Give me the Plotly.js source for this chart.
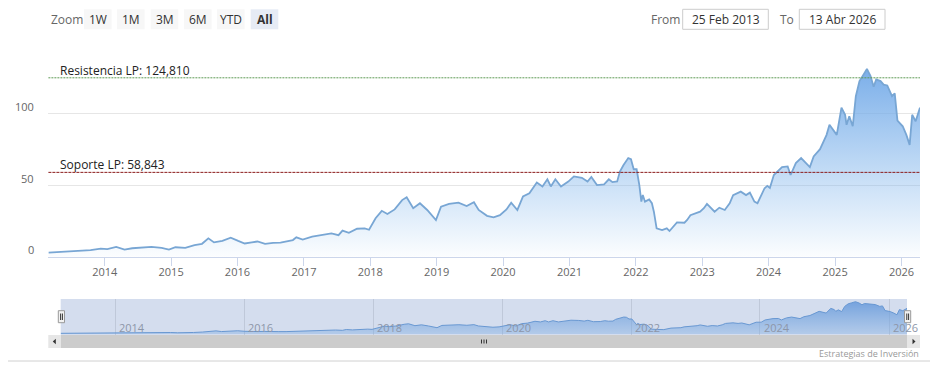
<!DOCTYPE html>
<html><head><meta charset="utf-8">
<script src="https://cdn.plot.ly/plotly-3.0.1.min.js"></script>
<style>html,body{margin:0;padding:0;background:#fff;}#chart{width:937px;height:379px;}</style>
</head><body><div id="chart"></div>
<script>
// ---------------- DATA ----------------
const dates = ['2013-02-25','2013-04-15','2013-06-15','2013-08-15','2013-10-15','2013-12-10','2014-01-15','2014-03-05','2014-04-20','2014-06-01','2014-07-20','2014-09-15','2014-11-10','2014-12-20','2015-01-25','2015-03-20','2015-05-10','2015-06-20','2015-07-25','2015-08-25','2015-10-10','2015-11-25','2016-01-05','2016-02-10','2016-03-20','2016-04-20','2016-06-01','2016-07-15','2016-08-25','2016-10-01','2016-11-01','2016-11-20','2016-12-25','2017-02-15','2017-04-15','2017-06-01','2017-07-10','2017-08-01','2017-09-05','2017-10-20','2017-12-01','2017-12-25','2018-01-30','2018-03-05','2018-04-05','2018-05-15','2018-06-25','2018-07-20','2018-08-25','2018-10-01','2018-11-10','2018-12-10','2018-12-28','2019-01-25','2019-03-10','2019-05-01','2019-06-15','2019-07-25','2019-08-20','2019-10-05','2019-11-10','2019-12-15','2020-01-20','2020-02-15','2020-03-20','2020-04-20','2020-05-25','2020-07-05','2020-08-05','2020-09-01','2020-09-20','2020-10-15','2020-11-15','2020-12-25','2021-01-25','2021-03-10','2021-04-10','2021-05-01','2021-06-01','2021-07-10','2021-08-05','2021-08-25','2021-09-20','2021-10-05','2021-10-25','2021-11-20','2021-12-05','2021-12-20','2022-01-05','2022-01-20','2022-01-31','2022-02-08','2022-02-20','2022-03-15','2022-03-30','2022-04-10','2022-04-25','2022-05-25','2022-06-20','2022-07-05','2022-08-15','2022-09-25','2022-10-10','2022-10-28','2022-11-25','2022-12-20','2023-01-10','2023-01-27','2023-03-10','2023-04-05','2023-05-05','2023-06-01','2023-06-20','2023-08-01','2023-08-30','2023-09-20','2023-10-15','2023-11-01','2023-12-10','2023-12-25','2024-01-08','2024-01-30','2024-03-15','2024-04-15','2024-05-01','2024-05-30','2024-06-28','2024-08-15','2024-09-05','2024-10-10','2024-11-15','2024-12-01','2025-01-10','2025-02-05','2025-02-25','2025-03-05','2025-03-20','2025-04-08','2025-04-25','2025-05-15','2025-06-01','2025-06-25','2025-07-15','2025-08-01','2025-08-15','2025-09-08','2025-09-25','2025-10-15','2025-11-10','2025-11-25','2025-12-10','2026-01-08','2026-01-28','2026-02-15','2026-03-01','2026-03-20','2026-04-13'];
const prices = [2.8,3.2,3.7,4.2,4.6,5.6,5.3,6.8,5.0,5.9,6.4,6.9,6.1,5.0,6.6,6.2,8.0,9.0,12.8,10.0,11.0,13.2,11.0,9.2,10.0,10.6,9.0,9.7,9.8,10.5,11.6,13.5,12.0,14.0,15.2,16.2,15.0,18.2,16.7,19.5,19.8,18.8,26.8,32.0,29.8,33.0,39.5,41.5,33.8,37.3,32.6,28.5,25.6,34.9,36.8,37.7,35.4,38.0,32.6,28.5,27.5,29.0,33.0,37.7,32.6,42.0,44.3,51.7,49.0,54.0,49.0,54.0,49.0,52.4,56.0,55.0,52.4,55.6,50.0,50.5,54.0,52.0,52.5,59.4,64.0,68.8,68.0,61.0,61.0,50.0,38.5,43.0,38.4,40.0,37.3,31.4,19.8,18.6,19.8,17.9,24.0,23.7,25.6,29.0,30.3,31.4,33.8,36.8,31.4,34.2,32.6,37.3,43.0,45.4,43.0,44.7,38.4,37.3,47.8,49.4,48.0,57.0,62.5,63.0,57.0,65.3,68.8,62.5,70.0,75.0,85.0,92.0,85.0,104.0,99.0,92.0,98.0,91.0,112.0,122.5,126.0,131.0,126.0,118.6,123.7,122.5,120.0,119.5,112.0,114.0,95.0,91.0,85.0,78.0,99.0,94.5,104.0];
const yearTicks = ['2014-01-01','2015-01-01','2016-01-01','2017-01-01','2018-01-01','2019-01-01','2020-01-01','2021-01-01','2022-01-01','2023-01-01','2024-01-01','2025-01-01','2026-01-01'];
const yearLabels = ['2014','2015','2016','2017','2018','2019','2020','2021','2022','2023','2024','2025','2026'];
const navTicks = ['2014-01-01','2016-01-01','2018-01-01','2020-01-01','2022-01-01','2024-01-01','2026-01-01'];
const navLabels = ['2014','2016','2018','2020','2022','2024','2026'];
const yTickValues = [0, 50, 100];
const yTickLabels = ['0', '50', '100'];
const resistanceValue = 124.81;
const resistanceLabel = 'Resistencia LP: 124,810';
const supportValue = 58.843;
const supportLabel = 'Soporte LP: 58,843';
const rangeButtons = ['1W','1M','3M','6M','YTD','All'];
const fromText = '25 Feb 2013';
const toText = '13 Abr 2026';
const creditText = 'Estrategias de Inversión';
const xStart = '2013-02-25', xEnd = '2026-04-13';

// ---------------- LAYOUT HELPERS ----------------
const W = 937, H = 379;
const FONT = 'Open Sans, sans-serif';
const fx = x => x / W, fy = y => 1 - y / H;
const shapes = [], annotations = [];
function rect(x0, y0, x1, y1, fill, line, lw) {
  shapes.push({type:'rect', xref:'paper', yref:'paper', x0:fx(x0), x1:fx(x1), y0:fy(y1), y1:fy(y0),
    fillcolor:fill, line:{color:line || 'rgba(0,0,0,0)', width: lw === undefined ? (line ? 1 : 0) : lw}, layer:'above'});
}
function hline(x0, x1, y, color, w) {
  shapes.push({type:'line', xref:'paper', yref:'paper', x0:fx(x0), x1:fx(x1), y0:fy(y), y1:fy(y), line:{color, width:w||1}, layer:'above'});
}
function vline(x, y0, y1, color, w) {
  shapes.push({type:'line', xref:'paper', yref:'paper', x0:fx(x), x1:fx(x), y0:fy(y0), y1:fy(y1), line:{color, width:w||1}, layer:'above'});
}
function poly(pts, color) {
  const p = pts.map((q, i) => (i ? 'L' : 'M') + fx(q[0]) + ',' + fy(q[1])).join(' ') + ' Z';
  shapes.push({type:'path', xref:'paper', yref:'paper', path:p, fillcolor:color, line:{width:0}, layer:'above'});
}
function text(x, y, t, size, color, anchor) {
  annotations.push({xref:'paper', yref:'paper', x:fx(x), y:fy(y), text:t, showarrow:false,
    xanchor:anchor || 'center', yanchor:'middle', borderpad:0,
    font:{family:FONT, size:size, color:color}});
}

// ---- range selector ----
text(50, 19, 'Zoom', 12, '#666', 'left');
const btnX = [84, 117, 150.7, 184, 217, 250.7];
rangeButtons.forEach((b, i) => {
  const sel = b === 'All';
  rect(btnX[i], 9.3, btnX[i] + 27.6, 29.3, sel ? '#e6ebf5' : '#f7f7f7');
  text(btnX[i] + 13.8, 19.3, sel ? '<b>' + b + '</b>' : b, 12, '#333');
});
text(650, 19, 'From', 12, '#666', 'left');
rect(682.7, 9.3, 768.3, 29.3, '#ffffff', '#cccccc', 1);
text(725.5, 19.3, fromText, 12, '#333');
text(779, 19, 'To', 12, '#666', 'left');
rect(799.3, 9.3, 885, 29.3, '#ffffff', '#cccccc', 1);
text(842.2, 19.3, toText, 12, '#333');

// ---- y labels (main) ----
yTickValues.forEach((v, i) => {
  annotations.push({xref:'paper', yref:'y', x:fx(36), y:v, yshift:7, text:yTickLabels[i], showarrow:false,
    xanchor:'right', yanchor:'middle', font:{family:FONT, size:11, color:'#666'}});
});

// ---- support / resistance lines ----
shapes.push({type:'line', xref:'x domain', yref:'y', x0:0, x1:1, y0:resistanceValue, y1:resistanceValue,
  line:{color:'#5e9a55', width:1, dash:'2px,1px'}, layer:'above'});
shapes.push({type:'line', xref:'x domain', yref:'y', x0:0, x1:1, y0:supportValue, y1:supportValue,
  line:{color:'#8b1a1a', width:1, dash:'3px,1px'}, layer:'above'});
annotations.push({xref:'paper', yref:'y', x:fx(58), y:resistanceValue, yshift:-3, text:resistanceLabel, showarrow:false,
  xanchor:'left', yanchor:'bottom', font:{family:FONT, size:12, color:'#222'}});
annotations.push({xref:'paper', yref:'y', x:fx(58), y:supportValue, yshift:-3, text:supportLabel, showarrow:false,
  xanchor:'left', yanchor:'bottom', font:{family:FONT, size:12, color:'#222'}});

// ---- navigator ----
const navX0 = 60.7, navX1 = 907, navY0 = 299, navY1 = 335;
shapes.push({type:'rect', xref:'paper', yref:'paper', x0:fx(navX0), x1:fx(navX1), y0:fy(navY1), y1:fy(navY0),
  fillcolor:'rgba(102,133,194,0.28)', line:{width:0}, layer:'above'});
navTicks.forEach((d, i) => {
  annotations.push({xref:'x2', yref:'paper', x:d, y:fy(327.5), xshift:2, text:navLabels[i], showarrow:false,
    xanchor:'left', yanchor:'middle', font:{family:FONT, size:11, color:'#8d96a8'}});
});
// handles
[[58.3, 64.5], [904.5, 910.7]].forEach(h => {
  rect(h[0], 310.7, h[1], 322.7, '#f2f2f2', '#999999', 1);
  vline(h[0] + 2.3, 313.5, 320, '#333', 1);
  vline(h[0] + 4.1, 313.5, 320, '#333', 1);
});
// scrollbar
rect(61, 335, 907, 348, '#cccccc');
rect(48.3, 335, 61, 348, '#e6e6e6');
rect(907, 335, 920, 348, '#e6e6e6');
poly([[55.8, 338.8], [55.8, 344.2], [52.8, 341.5]], '#333');
poly([[912.5, 338.8], [912.5, 344.2], [915.5, 341.5]], '#333');
[481.5, 484, 486.5].forEach(x => vline(x, 339.5, 343.5, '#333', 1));
// bottom border and credit
hline(8, 930, 361, '#d0d0d0', 1);
text(920, 353, creditText, 9, '#999', 'right');

// ---------------- TRACES ----------------
const main = {
  x: dates, y: prices, type:'scatter', mode:'lines', xaxis:'x', yaxis:'y',
  line:{color:'#78a6d4', width:1.8}, fill:'tozeroy',
  fillgradient:{type:'vertical', start:0, stop:131,
    colorscale:[[0,'rgba(124,181,236,0.03)'],[1,'rgba(116,170,232,0.95)']]},
  hoverinfo:'skip'
};
const nav = {
  x: dates, y: prices, type:'scatter', mode:'lines', xaxis:'x2', yaxis:'y2',
  line:{color:'#6a9fd8', width:1}, fill:'tozeroy',
  fillgradient:{type:'vertical', start:0, stop:131,
    colorscale:[[0,'rgba(124,181,236,0.35)'],[1,'rgba(110,165,230,0.9)']]},
  hoverinfo:'skip'
};

const layout = {
  width:W, height:H, margin:{l:0, r:0, t:0, b:0},
  paper_bgcolor:'#ffffff', plot_bgcolor:'rgba(0,0,0,0)', showlegend:false,
  font:{family:FONT, color:'#666'},
  xaxis:{type:'date', domain:[fx(48.4), fx(920)], range:[xStart, xEnd], tickvals:yearTicks, ticktext:yearLabels,
    ticks:'outside', ticklen:8, tickcolor:'#ccd6eb', tickwidth:1, showline:true, linecolor:'#ccd6eb', linewidth:1,
    ticklabelstandoff:-3,
    showgrid:false, zeroline:false, tickfont:{family:FONT, size:11, color:'#666'}, fixedrange:true},
  yaxis:{domain:[fy(256.7), fy(41.7)], range:[0,150], tickvals:[0,50,100,150], showticklabels:false,
    showgrid:true, gridcolor:'#e6e6e6', gridwidth:1, zeroline:false, showline:false, ticks:'', fixedrange:true},
  xaxis2:{type:'date', domain:[fx(navX0), fx(navX1)], range:[xStart, xEnd], anchor:'y2', tickvals:navTicks,
    showticklabels:false, ticks:'', showgrid:true, gridcolor:'#e2e2e2', showline:false, zeroline:false, fixedrange:true},
  yaxis2:{domain:[fy(navY1), fy(navY0)], range:[-4,142], anchor:'x2', showticklabels:false, showgrid:false,
    zeroline:false, showline:false, ticks:'', fixedrange:true},
  shapes, annotations
};
Plotly.newPlot('chart', [main, nav], layout, {displayModeBar:false, staticPlot:true});
</script></body></html>
